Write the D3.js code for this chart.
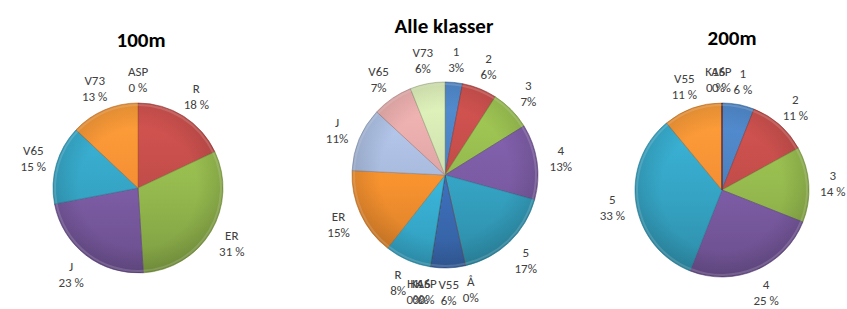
<!DOCTYPE html>
<html>
<head>
<meta charset="utf-8">
<script src="https://cdn.jsdelivr.net/npm/d3@7"></script>
<style>
  body { margin: 0; background: #fff; }
  svg { display: block; }
</style>
</head>
<body>
<div id="chart"></div>
<script>
// values are percent shares, as shown in the labels
var names100 = ["ASP", "R", "ER", "J", "V65", "V73"];
var values100 = [0, 18, 31, 23, 15, 13];

var namesAll = ["1", "2", "3", "4", "5", "Å", "V55", "ASP", "K16", "HK", "R", "ER", "J", "V65", "V73"];
var valuesAll = [3, 6, 7, 13, 17, 0, 6, 0, 0, 0, 8, 15, 11, 7, 6];

var names200 = ["1", "2", "3", "4", "5", "V55", "ASP", "K16"];
var values200 = [6, 11, 14, 25, 33, 11, 0, 0];

// excel 2007 style palette, by point index
var palette = ["#4a7ebb", "#be4b48", "#93b74d", "#7b5ba3", "#35a3c3", "#f38d33",
               "#3d6fbb", "#a33a37", "#7f9e44", "#654c87", "#3ab5d9", "#f7922f",
               "#a7b9db", "#dca4a3", "#cbdcaa"];

var width = 847,
    height = 309,
    font = "Carlito, Lato, 'Open Sans', sans-serif";

var svg = d3.select("#chart")
    .append("svg")
    .attr("width", width)
    .attr("height", height);

svg.append("rect").attr("width", width).attr("height", height).attr("fill", "#fff");

var defs = svg.append("defs");

var drawPie = function(id, title, names, values, opts) {

    var cx = opts.cx, cy = opts.cy, r = opts.r;

    var pie = d3.pie().sort(null).value(function(d) { return d; });
    var arcs = pie(values);
    var arc = d3.arc().innerRadius(0).outerRadius(r);

    var g = svg.append("g").attr("transform", "translate(" + cx + "," + cy + ")");

    /* one top-light / bottom-dark gradient per colour */
    arcs.forEach(function(d, i) {
        var c = d3.color(palette[i % palette.length]);
        var grad = defs.append("linearGradient")
            .attr("id", id + "-g" + i)
            .attr("gradientUnits", "userSpaceOnUse")
            .attr("x1", 0).attr("y1", -r).attr("x2", 0).attr("y2", r);
        grad.append("stop").attr("offset", "0%").attr("stop-color", c.brighter(0.35));
        grad.append("stop").attr("offset", "55%").attr("stop-color", c);
        grad.append("stop").attr("offset", "100%").attr("stop-color", c.darker(0.45));
    });

    g.selectAll("path.slice")
        .data(arcs)
        .enter().append("path")
        .attr("class", "slice")
        .attr("d", arc)
        .attr("fill", function(d, i) { return "url(#" + id + "-g" + i + ")"; })
        .attr("stroke", function(d, i) { return d3.color(palette[i]).darker(0.8); })
        .attr("stroke-width", 0.6)
        .attr("stroke-linejoin", "round");

    /* bevel-ish rim: light inner edge per slice */
    g.selectAll("path.rim")
        .data(arcs.filter(function(d) { return d.value > 0; }))
        .enter().append("path")
        .attr("class", "rim")
        .attr("d", d3.arc().innerRadius(r - 3).outerRadius(r - 1))
        .attr("fill", "#fff")
        .attr("opacity", 0.18);

    /* edge shading over the whole disc */
    var rg = defs.append("radialGradient").attr("id", id + "-shade");
    rg.append("stop").attr("offset", "70%").attr("stop-color", "#000").attr("stop-opacity", 0);
    rg.append("stop").attr("offset", "100%").attr("stop-color", "#000").attr("stop-opacity", 0.12);
    g.append("circle").attr("r", r).attr("fill", "url(#" + id + "-shade)");

    /* title */
    svg.append("text")
        .attr("x", opts.tx).attr("y", opts.ty)
        .attr("text-anchor", "middle")
        .attr("font-family", font)
        .attr("font-weight", "bold")
        .attr("font-size", 21)
        .attr("fill", "#000")
        .text(title);

    /* labels outside the end, two lines */
    var d0 = r + 24;
    var labels = arcs.map(function(d, i) {
        var a = (d.startAngle + d.endAngle) / 2;
        return {
            name: names[i],
            pct: values[i] + opts.sep + "%",
            x: d0 * Math.sin(a),
            y: -d0 * Math.cos(a),
            w: Math.max(names[i].length, 3) * 6.5,
            zero: d.value === 0
        };
    });

    // zero slices pile up on one spot: push them aside like excel does
    var fixed = labels.filter(function(l) { return !l.zero; });
    var step = 0;
    labels.forEach(function(l) {
        if (!l.zero) { step = 0; return; }
        var moved = true;
        while (moved) {
            moved = false;
            fixed.forEach(function(f) {
                if (Math.abs(f.y - l.y) < 20 && Math.abs(f.x - l.x) < (f.w + l.w) / 2 + 2) {
                    l.x = f.x - (f.w + l.w) / 2 - 2;
                    moved = true;
                }
            });
        }
        l.x -= step * 6;
        step++;
    });

    var lg = g.selectAll("text.lab")
        .data(labels)
        .enter().append("text")
        .attr("class", "lab")
        .attr("text-anchor", "middle")
        .attr("font-family", font)
        .attr("font-size", 13)
        .attr("fill", "#404040")
        .attr("transform", function(l) { return "translate(" + l.x + "," + l.y + ")"; });

    lg.append("tspan").attr("x", 0).attr("y", -3).text(function(l) { return l.name; });
    lg.append("tspan").attr("x", 0).attr("y", 13).text(function(l) { return l.pct; });
};

drawPie("p100", "100m", names100, values100, { cx: 138, cy: 188, r: 85, tx: 141, ty: 47, sep: " " });
drawPie("pall", "Alle klasser", namesAll, valuesAll, { cx: 445, cy: 175, r: 93, tx: 444, ty: 33, sep: "" });
drawPie("p200", "200m", names200, values200, { cx: 722, cy: 190, r: 87, tx: 732, ty: 45, sep: " " });
</script>
</body>
</html>
